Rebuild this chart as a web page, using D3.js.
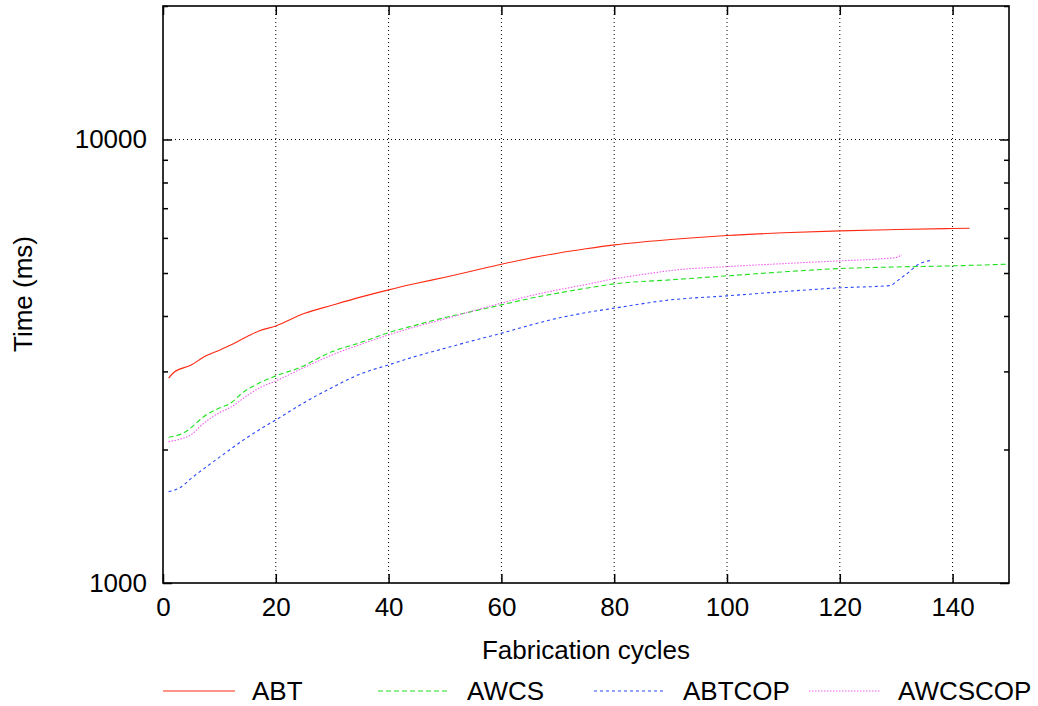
<!DOCTYPE html>
<html>
<head>
<meta charset="utf-8">
<script src="https://cdn.jsdelivr.net/npm/d3@7"></script>
<style>
  html, body { margin: 0; padding: 0; background: #fff; }
  svg { display: block; }
  text { font-family: "Liberation Sans", Arial, Helvetica, sans-serif; fill: #000; }
</style>
</head>
<body>
<svg id="chart" width="1038" height="706"></svg>
<script>
// ---- Data ----
const seriesNames = ["ABT", "AWCS", "ABTCOP", "AWCSCOP"];

const abtCycles = [1, 2, 5, 7, 10, 12, 15, 17, 20, 25, 30, 35, 40, 45, 50, 55, 60, 65, 70, 75, 80, 90, 100, 110, 120, 130, 140, 143];
const abtTimes  = [2896, 2990, 3100, 3220, 3350, 3440, 3600, 3700, 3799, 4050, 4230, 4411, 4581, 4740, 4893, 5060, 5235, 5400, 5542, 5670, 5787, 5950, 6073, 6160, 6223, 6265, 6300, 6310];

const awcsCycles = [1, 4, 6, 7, 10, 12, 14, 17, 20, 24, 30, 35, 40, 45, 50, 55, 60, 65, 70, 75, 80, 90, 100, 110, 120, 130, 140, 150];
const awcsTimes  = [2132, 2194, 2300, 2360, 2480, 2543, 2679, 2821, 2931, 3050, 3325, 3484, 3669, 3820, 3967, 4100, 4237, 4380, 4504, 4620, 4726, 4826, 4926, 5030, 5117, 5160, 5189, 5236];

const abtcopCycles = [1, 3, 5, 8, 11, 14, 17, 20, 25, 30, 35, 40, 45, 50, 55, 60, 65, 70, 75, 80, 90, 100, 110, 120, 129, 130, 132, 134, 136];
const abtcopTimes  = [1607, 1640, 1722, 1840, 1962, 2090, 2214, 2332, 2550, 2760, 2960, 3103, 3250, 3383, 3520, 3658, 3810, 3955, 4070, 4166, 4349, 4441, 4540, 4630, 4685, 4783, 4995, 5235, 5333];

const awcscopCycles = [1, 3, 5, 7, 10, 12, 15, 17, 20, 25, 30, 35, 40, 45, 50, 55, 60, 65, 70, 75, 80, 85, 90, 100, 110, 120, 128, 130, 131];
const awcscopTimes  = [2083, 2110, 2160, 2280, 2420, 2490, 2650, 2750, 2855, 3060, 3268, 3450, 3625, 3790, 3940, 4110, 4275, 4440, 4581, 4710, 4852, 4960, 5065, 5169, 5250, 5326, 5390, 5420, 5495];

const xTickValues = [0, 20, 40, 60, 80, 100, 120, 140];
const yTickLabels = [1000, 10000];
const yMinorTicks = [2000, 3000, 4000, 5000, 6000, 7000, 8000, 9000, 20000];

const xTitle = "Fabrication cycles";
const yTitle = "Time (ms)";

(function () {
  const svg = d3.select("#chart");
  const pL = 163, pR = 1009, pT = 6, pB = 583;
  const fs = "26px";

  const x = d3.scaleLinear().domain([0, 150]).range([pL, pR]);
  const y = d3.scaleLog().domain([1000, 20000]).range([pB, pT]);

  const styles = [
    { color: "#ff2a12", dash: null },
    { color: "#1ee01e", dash: "5,3" },
    { color: "#2a46ff", dash: "3,3" },
    { color: "#f25cf2", dash: "1.5,1.5" }
  ];

  const series = [
    { name: seriesNames[0], xs: abtCycles, ys: abtTimes },
    { name: seriesNames[1], xs: awcsCycles, ys: awcsTimes },
    { name: seriesNames[2], xs: abtcopCycles, ys: abtcopTimes },
    { name: seriesNames[3], xs: awcscopCycles, ys: awcscopTimes }
  ];

  // grid
  const grid = svg.append("g");
  grid.selectAll("line.vg").data(xTickValues.filter(v => v > 0))
    .enter().append("line")
    .attr("x1", d => x(d)).attr("x2", d => x(d))
    .attr("y1", pT).attr("y2", pB)
    .attr("stroke", "#000").attr("stroke-width", 1)
    .attr("stroke-dasharray", "1,3");
  grid.append("line")
    .attr("x1", pL).attr("x2", pR)
    .attr("y1", y(10000)).attr("y2", y(10000))
    .attr("stroke", "#000").attr("stroke-width", 1)
    .attr("stroke-dasharray", "1,3");

  // clip
  svg.append("clipPath").attr("id", "plotclip")
    .append("rect").attr("x", pL).attr("y", pT)
    .attr("width", pR - pL).attr("height", pB - pT);

  // lines
  const line = d3.line().x(d => x(d[0])).y(d => y(d[1])).curve(d3.curveMonotoneX);
  const lines = svg.append("g").attr("clip-path", "url(#plotclip)");
  series.forEach((s, i) => {
    const pts = s.xs.map((c, k) => [c, s.ys[k]]);
    lines.append("path")
      .datum(pts)
      .attr("d", line)
      .attr("fill", "none")
      .attr("stroke", styles[i].color)
      .attr("stroke-width", 1.1)
      .attr("stroke-dasharray", styles[i].dash);
  });

  // axes with inward ticks (gnuplot style), mirrored
  const axisG = svg.append("g");
  const xB = d3.axisBottom(x).tickValues(xTickValues).tickSize(-9).tickPadding(15).tickFormat(d3.format("d"));
  axisG.append("g").attr("transform", `translate(0,${pB})`).call(xB);
  const xT = d3.axisTop(x).tickValues(xTickValues).tickSize(-9).tickFormat("");
  axisG.append("g").attr("transform", `translate(0,${pT})`).call(xT);

  const yL = d3.axisLeft(y).tickValues(yTickLabels).tickSize(-9).tickPadding(16).tickFormat(d3.format("d"));
  axisG.append("g").attr("transform", `translate(${pL},0)`).call(yL);
  const yLm = d3.axisLeft(y).tickValues(yMinorTicks).tickSize(-5).tickFormat("");
  axisG.append("g").attr("transform", `translate(${pL},0)`).call(yLm);
  const yR = d3.axisRight(y).tickValues(yTickLabels).tickSize(-9).tickFormat("");
  axisG.append("g").attr("transform", `translate(${pR},0)`).call(yR);
  const yRm = d3.axisRight(y).tickValues(yMinorTicks).tickSize(-5).tickFormat("");
  axisG.append("g").attr("transform", `translate(${pR},0)`).call(yRm);

  axisG.selectAll(".domain").remove();
  axisG.selectAll(".tick line").attr("stroke", "#000").attr("stroke-width", 1.5);
  axisG.selectAll(".tick text").style("font-size", fs)
    .style("font-family", '"Liberation Sans", Arial, sans-serif').attr("fill", "#000");

  // frame
  svg.append("rect")
    .attr("x", pL).attr("y", pT)
    .attr("width", pR - pL).attr("height", pB - pT)
    .attr("fill", "none").attr("stroke", "#000").attr("stroke-width", 1.6);

  // titles
  svg.append("text")
    .attr("x", (pL + pR) / 2).attr("y", 659)
    .attr("text-anchor", "middle").style("font-size", fs)
    .text(xTitle);
  svg.append("text")
    .attr("transform", `translate(32,294) rotate(-90)`)
    .attr("text-anchor", "middle").style("font-size", fs)
    .text(yTitle);

  // legend
  const legX = [163, 378, 594, 809];
  const legY = 691;
  const leg = svg.append("g");
  series.forEach((s, i) => {
    leg.append("line")
      .attr("x1", legX[i]).attr("x2", legX[i] + 72)
      .attr("y1", legY).attr("y2", legY)
      .attr("stroke", styles[i].color).attr("stroke-width", 1.1)
      .attr("stroke-dasharray", styles[i].dash);
    leg.append("text")
      .attr("x", legX[i] + 89).attr("y", legY + 9)
      .style("font-size", fs)
      .text(s.name);
  });
})();
</script>
</body>
</html>
